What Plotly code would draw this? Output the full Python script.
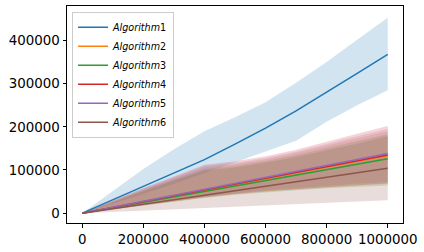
import plotly.graph_objects as go

steps = [0, 100000, 200000, 300000, 400000, 500000, 600000, 700000, 800000, 900000, 1000000]

names = ["Algorithm1", "Algorithm2", "Algorithm3", "Algorithm4", "Algorithm5", "Algorithm6"]
colors = ["#1f77b4", "#ff7f0e", "#2ca02c", "#d62728", "#9467bd", "#8c564b"]

alg1_mean = [0, 31000, 62000, 93000, 124000, 160000, 197000, 237000, 280000, 324000, 368000]
alg1_upper = [0, 52000, 102000, 148000, 190000, 222000, 257000, 302000, 350000, 402000, 453000]
alg1_lower = [0, 22000, 45000, 68000, 92000, 118000, 143000, 168000, 212000, 250000, 285000]

alg2_mean = [0, 13500, 26800, 40000, 53300, 66500, 80000, 93000, 106500, 120000, 133000]
alg2_upper = [0, 28000, 55000, 81000, 106000, 114000, 125000, 140000, 156000, 173000, 190000]
alg2_lower = [0, 9500, 19000, 28000, 37000, 45000, 51000, 56000, 61000, 65000, 70000]

alg3_mean = [0, 12600, 25200, 37800, 50400, 63000, 75600, 88200, 100800, 113400, 126000]
alg3_upper = [0, 27000, 53000, 78000, 102000, 110000, 121000, 135000, 151000, 167000, 183000]
alg3_lower = [0, 9000, 18000, 26500, 35000, 42500, 48000, 53000, 57500, 61000, 64000]

alg4_mean = [0, 13400, 26800, 40200, 53600, 67000, 80400, 93800, 107200, 120600, 134500]
alg4_upper = [0, 30000, 58000, 85000, 112000, 120000, 132000, 147000, 166000, 184000, 202000]
alg4_lower = [0, 9000, 18000, 27000, 36000, 44000, 50000, 55000, 60000, 64000, 68000]

alg5_mean = [0, 13800, 27600, 41400, 55200, 69000, 82800, 96600, 110400, 124200, 138000]
alg5_upper = [0, 29000, 57000, 83000, 109000, 117000, 128000, 143000, 161000, 178000, 195000]
alg5_lower = [0, 10000, 20000, 29000, 38500, 46500, 53000, 58500, 64000, 68500, 72000]

alg6_mean = [0, 10400, 20800, 31200, 41600, 52000, 62400, 72800, 83200, 93600, 104000]
alg6_upper = [0, 26000, 51000, 75000, 98000, 106000, 117000, 130000, 145000, 161000, 178000]
alg6_lower = [0, 3000, 6000, 9000, 12000, 15000, 18000, 21000, 24000, 27000, 30000]

means = [alg1_mean, alg2_mean, alg3_mean, alg4_mean, alg5_mean, alg6_mean]
uppers = [alg1_upper, alg2_upper, alg3_upper, alg4_upper, alg5_upper, alg6_upper]
lowers = [alg1_lower, alg2_lower, alg3_lower, alg4_lower, alg5_lower, alg6_lower]


def rgba(hex_color, a):
    h = hex_color.lstrip("#")
    r, g, b = int(h[0:2], 16), int(h[2:4], 16), int(h[4:6], 16)
    return f"rgba({r},{g},{b},{a})"


fig = go.Figure()

# shaded bands first (below all lines, as in matplotlib)
for name, c, up, lo in zip(names, colors, uppers, lowers):
    fig.add_trace(go.Scatter(
        x=steps + steps[::-1],
        y=up + lo[::-1],
        fill="toself",
        fillcolor=rgba(c, 0.2),
        line=dict(width=0, color=rgba(c, 0)),
        mode="lines",
        showlegend=False,
        hoverinfo="skip",
    ))

for name, c, m in zip(names, colors, means):
    label = "<i>Algorithm</i>" + name[-1]
    fig.add_trace(go.Scatter(
        x=steps, y=m, mode="lines", name=label,
        line=dict(color=c, width=1.5),
    ))

axis_common = dict(
    showgrid=False, zeroline=False,
    showline=True, linecolor="black", linewidth=1, mirror=True,
    ticks="outside", ticklen=3.5, tickwidth=1, tickcolor="black",
    tickfont=dict(family="DejaVu Sans", size=13.4, color="black"),
    tickformat="d",
)

fig.update_layout(
    width=424, height=252,
    margin=dict(l=67, r=21, t=5, b=28),
    paper_bgcolor="white", plot_bgcolor="white",
    xaxis=dict(range=[-50000, 1050000], tickvals=[0, 200000, 400000, 600000, 800000, 1000000], **axis_common),
    yaxis=dict(range=[-22850, 480000], tickvals=[0, 100000, 200000, 300000, 400000], **axis_common),
    legend=dict(
        x=0.015, y=0.973, xanchor="left", yanchor="top",
        bgcolor="rgba(255,255,255,0.8)", bordercolor="#cccccc", borderwidth=1,
        font=dict(family="DejaVu Sans", size=9.6, color="black"),
    ),
    showlegend=True,
)

fig.write_html(
    "out.html",
    config={"displayModeBar": False},
    post_script="document.body.style.margin='0';document.body.style.padding='0';",
)
